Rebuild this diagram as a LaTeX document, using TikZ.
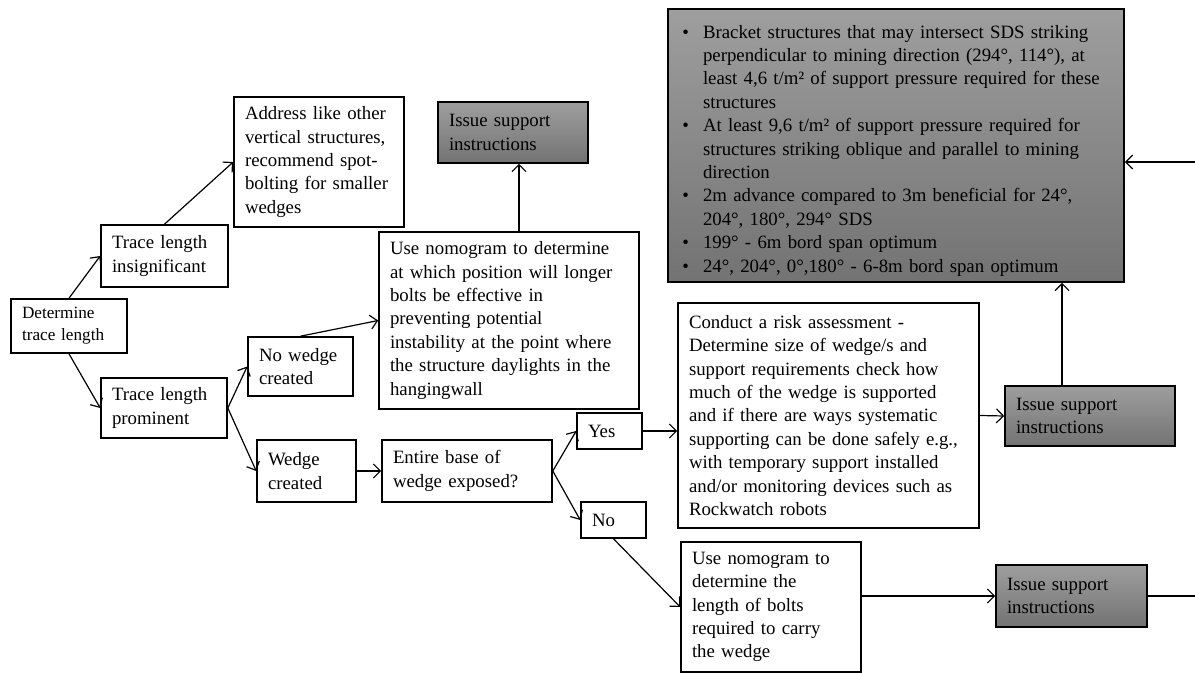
\documentclass[tikz,border=0pt]{standalone}
\usepackage{fontspec}
\setmainfont{Liberation Serif}
\usetikzlibrary{calc,arrows.meta}

\tikzset{
  box/.style={draw,line width=0.8pt,align=left,inner xsep=5.5pt,inner ysep=2pt,
    font=\fontsize{9.4}{11.7}\selectfont},
  greybox/.style={box,top color=black!38,bottom color=black!55},
  link/.style={->,line width=0.6pt}
}

\begin{document}
\begin{tikzpicture}[x=0.5pt,y=-0.5pt,>={Straight Barb[length=3.5pt,width=7pt]}]
    \useasboundingbox (0,0) rectangle (1195,673);
    % left branch
    \node[box,text width=47pt,minimum height=27pt,font=\fontsize{8.6}{11}\selectfont]
      (determine) at (69,326) {Determine\\trace length};
    \node[box,text width=52.5pt,minimum height=31pt] (insig) at (164.5,256)
      {Trace length\\insignificant};
    \node[box,text width=52pt,minimum height=30pt] (prominent) at (164,408)
      {Trace length\\prominent};
    \node[box,text width=74pt,minimum height=65pt] (address) at (319,162)
      {Address like other\\vertical structures,\\recommend spot-\\bolting for smaller\\wedges};
    % no wedge branch
    \node[box,text width=41.5pt,minimum height=29.5pt] (nowedge) at (300.5,366.5)
      {No wedge\\created};
    \node[box,text width=119pt,minimum height=88.5pt] (nomoA) at (509,320.5)
      {Use nomogram to determine\\at which position will longer\\bolts be effective in\\preventing potential\\instability at the point where\\the structure daylights in the\\hangingwall};
    \node[greybox,text width=64pt,minimum height=30.5pt] (issueA) at (513,132.5)
      {Issue support\\instructions};
    % wedge branch
    \node[box,text width=38.5pt,minimum height=31pt] (wedge) at (306.5,471)
      {Wedge\\created};
    \node[box,text width=74pt,minimum height=31pt] (entire) at (467,471)
      {Entire base of\\wedge exposed?};
    \node[box,text width=21.5pt,minimum height=18pt] (yes) at (609.5,431) {Yes};
    \node[box,text width=21.5pt,minimum height=18pt] (no) at (613.5,520) {No};
    \node[box,text width=139.5pt,minimum height=112.5pt] (conduct) at (828.5,415.5)
      {Conduct a risk assessment -\\Determine size of wedge/s and\\support requirements check how\\much of the wedge is supported\\and if there are ways systematic\\supporting can be done safely e.g.,\\with temporary support installed\\and/or monitoring devices such as\\Rockwatch robots};
    \node[greybox,text width=74pt,minimum height=30pt] (issueB) at (1090,416)
      {Issue support\\instructions};
    \node[box,text width=79pt,minimum height=65pt] (nomoB) at (771,607)
      {Use nomogram to\\determine the\\length of bolts\\required to carry\\the wedge};
    \node[greybox,text width=64.5pt,minimum height=31pt] (issueC) at (1071.5,596)
      {Issue support\\instructions};
    % recommendations
    \node[greybox,inner xsep=3pt,text width=222pt,minimum height=136.5pt] (recom) at (896,145.5)
      {\begin{list}{\textbullet}{\setlength{\leftmargin}{14.5pt}\setlength{\labelwidth}{3.5pt}%
        \setlength{\labelsep}{7pt}\setlength{\itemsep}{0pt}\setlength{\parsep}{0pt}%
        \setlength{\topsep}{0pt}\setlength{\partopsep}{0pt}}
        \item Bracket structures that may intersect  SDS striking\\perpendicular to mining direction (294°, 114°), at\\least 4,6 t/m² of support pressure required for these\\structures
        \item At least 9,6 t/m² of support pressure required for\\structures striking oblique and parallel to mining\\direction
        \item 2m advance compared to 3m beneficial for 24°,\\204°, 180°, 294° SDS
        \item 199° - 6m bord span optimum
        \item 24°, 204°, 0°,180° - 6-8m  bord span optimum
      \end{list}};
    % loose ends at the right edge
    \coordinate (outR) at (1195,596);
    \coordinate (inR) at (1195,162);
    % connectors
    \draw[link] (determine.north) -- (insig.west);
    \draw[link] (determine.south) -- (prominent.west);
    \draw[link] (insig.north) -- (address.west);
    \draw[link] (prominent.east) -- (nowedge.west);
    \draw[link] (prominent.east) -- (wedge.west);
    \draw[link] (nowedge.north) -- (nomoA.west);
    \draw[link] ([xshift=5pt]nomoA.north) -- ([xshift=3pt]issueA.south);
    \draw[link] (wedge.east) -- (entire.west);
    \draw[link] (entire.east) -- (yes.west);
    \draw[link] (entire.east) -- (no.west);
    \draw[link] (yes.east) -- (yes.east -| conduct.west);
    \draw[link] (no.south) -- (nomoB.west);
    \draw[link] (conduct.east) -- (issueB.west);
    \draw[link] ([xshift=-14pt]issueB.north) -- ([xshift=-14pt]issueB.north |- recom.south);
    \draw[link] (issueC.west -| nomoB.east) -- (issueC.west);
    \draw[line width=0.6pt] (issueC.east) -- (outR);
    \draw[link] (inR) -- (inR -| recom.east);
\end{tikzpicture}
\end{document}
